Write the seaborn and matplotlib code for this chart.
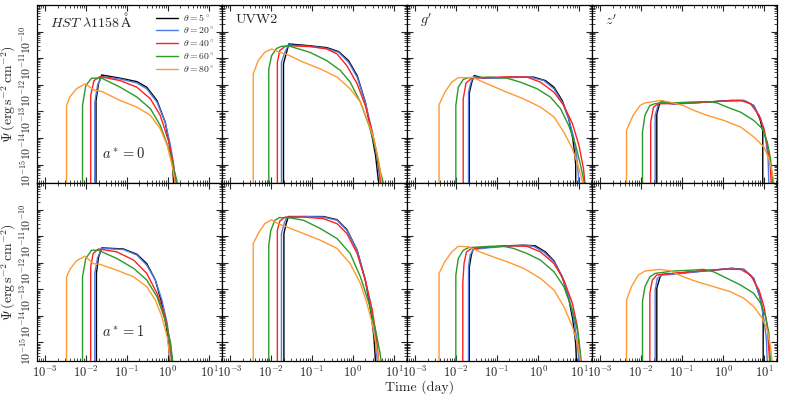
import numpy as np
import pandas as pd
import matplotlib
matplotlib.use("Agg")
import matplotlib.pyplot as plt
import seaborn as sns
from matplotlib.ticker import LogLocator, NullFormatter

# Viewing angles and line colours
THETAS = [5, 20, 40, 60, 80]
COLORS = ["#000000", "#4f7be8", "#ff2020", "#2a9a2a", "#ff9a33"]
BANDS = [r"$\mathit{HST}\ \lambda1158\,\mathrm{\AA}$", "UVW2", r"$g'$", r"$z'$"]
SPINS = [0, 1]

# Curves: theta -> (log10 time [day], log10 Psi)
hst_a0 = {
    5: ([-1.76, -1.76, -1.70, -1.62, -1.17, -0.76, -0.52, -0.27, -0.07, 0.04, 0.11, 0.14],
        [-16.5, -12.6, -11.95, -11.63, -11.75, -11.88, -12.09, -12.59, -13.4, -14.28, -15.03, -15.75]),
    20: ([-1.79, -1.79, -1.72, -1.62, -1.17, -0.76, -0.52, -0.27, -0.07, 0.06, 0.14, 0.19],
         [-16.5, -12.65, -12.0, -11.69, -11.78, -11.93, -12.15, -12.65, -13.4, -14.28, -15.03, -15.75]),
    40: ([-1.89, -1.89, -1.81, -1.66, -1.17, -0.76, -0.43, -0.19, 0.02, 0.12, 0.20],
         [-16.5, -12.4, -11.84, -11.69, -11.84, -12.09, -12.53, -13.15, -14.15, -14.9, -15.75]),
    60: ([-2.09, -2.09, -2.01, -1.87, -1.62, -1.17, -0.76, -0.43, -0.19, 0.02, 0.14, 0.24],
         [-16.5, -12.78, -12.03, -11.75, -11.75, -12.09, -12.46, -12.9, -13.53, -14.4, -15.15, -15.75]),
    80: ([-2.48, -2.48, -2.40, -2.24, -2.03, -1.79, -1.62, -1.17, -0.76, -0.43, -0.19, -0.02, 0.10, 0.18],
         [-16.5, -12.78, -12.46, -12.15, -11.96, -12.21, -12.25, -12.59, -12.84, -13.15, -13.65, -14.28, -15.03, -15.75]),
}

uvw2_a0 = {
    5: ([-1.70, -1.70, -1.62, -1.57, -1.05, -0.64, -0.35, -0.11, 0.10, 0.30, 0.43, 0.55, 0.63],
        [-16.5, -11.2, -10.75, -10.46, -10.53, -10.6, -10.75, -11.09, -11.65, -12.65, -13.65, -14.65, -15.75]),
    20: ([-1.75, -1.75, -1.66, -1.58, -1.05, -0.64, -0.35, -0.11, 0.10, 0.30, 0.47, 0.59, 0.67],
         [-16.5, -11.15, -10.75, -10.5, -10.55, -10.63, -10.78, -11.15, -11.71, -12.65, -13.78, -14.78, -15.75]),
    40: ([-1.85, -1.85, -1.79, -1.66, -1.54, -1.05, -0.64, -0.39, -0.15, 0.10, 0.30, 0.47, 0.59, 0.69],
         [-16.5, -11.15, -10.71, -10.55, -10.53, -10.56, -10.65, -10.84, -11.28, -11.96, -12.78, -13.78, -14.65, -15.75]),
    60: ([-2.06, -2.06, -1.99, -1.87, -1.75, -1.54, -1.05, -0.64, -0.31, -0.07, 0.18, 0.39, 0.55, 0.67, 0.75],
         [-16.5, -11.4, -10.9, -10.63, -10.55, -10.55, -10.78, -11.09, -11.46, -11.9, -12.65, -13.53, -14.4, -15.28, -15.75]),
    80: ([-2.44, -2.44, -2.32, -2.16, -1.99, -1.79, -1.58, -1.21, -0.80, -0.39, -0.07, 0.18, 0.34, 0.51, 0.63, 0.71],
         [-16.5, -11.59, -11.09, -10.78, -10.65, -10.78, -10.88, -11.15, -11.4, -11.71, -12.15, -12.65, -13.28, -14.03, -14.9, -15.75]),
}

g_a0 = {
    5: ([-1.68, -1.68, -1.62, -1.56, -1.34, -0.76, -0.11, 0.18, 0.39, 0.59, 0.75, 0.85, 0.90, 0.92, 0.92],
        [-16.5, -12.3, -11.9, -11.65, -11.75, -11.72, -11.71, -11.84, -12.09, -12.59, -13.28, -14.03, -14.65, -15.0, -15.75]),
    20: ([-1.70, -1.70, -1.64, -1.58, -1.34, -0.76, -0.19, 0.14, 0.39, 0.59, 0.75, 0.88, 0.96, 1.0],
         [-16.5, -12.28, -11.9, -11.69, -11.75, -11.73, -11.71, -11.84, -12.15, -12.65, -13.28, -14.03, -14.9, -15.75]),
    40: ([-1.83, -1.83, -1.76, -1.62, -0.76, -0.27, 0.06, 0.39, 0.63, 0.84, 1.0, 1.11, 1.15],
         [-16.5, -12.53, -11.93, -11.75, -11.7, -11.71, -11.9, -12.28, -12.78, -13.46, -14.28, -15.15, -15.75]),
    60: ([-2.01, -2.01, -1.95, -1.83, -1.70, -1.17, -0.76, -0.43, -0.02, 0.30, 0.55, 0.75, 0.92, 1.04, 1.14],
         [-16.5, -12.78, -12.09, -11.8, -11.73, -11.71, -11.75, -11.9, -12.15, -12.46, -12.9, -13.53, -14.28, -15.03, -15.75]),
    80: ([-2.42, -2.42, -2.28, -2.11, -1.95, -1.58, -1.25, -0.76, -0.35, 0.06, 0.39, 0.63, 0.84, 1.0, 1.10],
         [-16.5, -12.75, -12.28, -11.9, -11.73, -11.73, -11.96, -12.28, -12.53, -12.84, -13.21, -13.78, -14.4, -15.15, -15.75]),
}

z_a0 = {
    5: ([-1.62, -1.62, -1.56, -1.50, -1.21, -0.39, 0.18, 0.51, 0.75, 0.90, 0.96, 0.97, 0.97],
        [-16.5, -13.1, -12.75, -12.61, -12.71, -12.65, -12.59, -12.59, -12.78, -13.28, -13.65, -13.75, -16.5]),
    20: ([-1.66, -1.66, -1.58, -1.50, -1.21, -0.39, 0.18, 0.51, 0.75, 0.92, 1.04, 1.10, 1.12],
         [-16.5, -13.15, -12.71, -12.65, -12.73, -12.65, -12.59, -12.59, -12.78, -13.28, -14.03, -14.78, -15.75]),
    40: ([-1.77, -1.77, -1.70, -1.58, -1.21, -0.80, -0.39, 0.02, 0.43, 0.67, 0.88, 1.0, 1.08, 1.15, 1.18],
         [-16.5, -13.4, -12.84, -12.71, -12.71, -12.68, -12.65, -12.61, -12.59, -12.71, -13.15, -13.65, -14.28, -15.03, -15.75]),
    60: ([-1.97, -1.97, -1.91, -1.79, -1.66, -1.54, -1.21, -0.80, -0.39, -0.15, 0.10, 0.43, 0.75, 0.96, 1.08, 1.16, 1.22],
         [-16.5, -13.78, -13.15, -12.78, -12.71, -12.68, -12.68, -12.65, -12.63, -12.68, -12.84, -13.03, -13.34, -13.65, -14.15, -14.78, -15.75]),
    80: ([-2.36, -2.36, -2.20, -2.03, -1.91, -1.54, -1.30, -0.97, -0.72, -0.39, 0.02, 0.43, 0.75, 1.0, 1.12, 1.20, 1.25],
         [-16.5, -13.71, -13.15, -12.78, -12.68, -12.59, -12.65, -12.78, -12.96, -13.15, -13.34, -13.59, -13.96, -14.34, -14.78, -15.28, -15.75]),
}

hst_a1 = {
    5: ([-1.75, -1.75, -1.70, -1.62, -1.09, -0.76, -0.52, -0.31, -0.15, -0.04, 0.02, 0.04],
        [-16.5, -12.4, -11.8, -11.44, -11.48, -11.68, -12.03, -12.65, -13.53, -14.4, -15.15, -15.75]),
    20: ([-1.79, -1.79, -1.72, -1.62, -1.09, -0.76, -0.52, -0.31, -0.15, -0.02, 0.04, 0.08],
         [-16.5, -12.4, -11.8, -11.46, -11.5, -11.71, -12.09, -12.65, -13.4, -14.28, -15.03, -15.75]),
    40: ([-1.89, -1.89, -1.83, -1.70, -1.25, -0.84, -0.52, -0.27, -0.07, 0.06, 0.10],
         [-16.5, -12.15, -11.65, -11.48, -11.59, -11.9, -12.4, -13.15, -14.03, -15.03, -15.75]),
    60: ([-2.09, -2.09, -2.01, -1.87, -1.70, -1.25, -0.84, -0.52, -0.27, -0.07, 0.06, 0.12],
         [-16.5, -12.53, -11.84, -11.53, -11.53, -11.84, -12.21, -12.65, -13.28, -14.15, -15.03, -15.75]),
    80: ([-2.48, -2.48, -2.40, -2.24, -2.03, -1.83, -1.66, -1.25, -0.84, -0.52, -0.31, -0.15, -0.02, 0.06],
         [-16.5, -12.53, -12.25, -11.93, -11.75, -12.03, -12.06, -12.28, -12.53, -12.9, -13.4, -14.03, -14.78, -15.75]),
}

uvw2_a1 = {
    5: ([-1.69, -1.69, -1.63, -1.58, -0.72, -0.39, -0.15, 0.10, 0.30, 0.43, 0.51, 0.55],
        [-16.5, -10.9, -10.5, -10.26, -10.26, -10.38, -10.75, -11.53, -12.65, -13.78, -14.78, -15.75]),
    20: ([-1.75, -1.75, -1.68, -1.61, -1.21, -0.72, -0.39, -0.15, 0.10, 0.30, 0.45, 0.55, 0.59],
         [-16.5, -10.9, -10.5, -10.28, -10.26, -10.28, -10.4, -10.78, -11.53, -12.65, -13.78, -14.78, -15.75]),
    40: ([-1.85, -1.85, -1.79, -1.66, -1.21, -0.72, -0.39, -0.15, 0.10, 0.30, 0.47, 0.57, 0.63],
         [-16.5, -10.78, -10.43, -10.28, -10.28, -10.34, -10.53, -10.9, -11.65, -12.65, -13.78, -14.78, -15.75]),
    60: ([-2.06, -2.06, -2.01, -1.91, -1.80, -1.54, -1.21, -0.80, -0.39, -0.07, 0.18, 0.39, 0.55, 0.66, 0.69],
         [-16.5, -11.34, -10.78, -10.4, -10.3, -10.31, -10.4, -10.71, -11.09, -11.65, -12.53, -13.53, -14.53, -15.4, -15.75]),
    80: ([-2.44, -2.44, -2.32, -2.16, -1.99, -1.83, -1.62, -1.21, -0.80, -0.39, -0.07, 0.18, 0.34, 0.47, 0.57, 0.63],
         [-16.5, -11.28, -10.9, -10.53, -10.38, -10.53, -10.65, -10.9, -11.15, -11.46, -12.03, -12.78, -13.53, -14.28, -15.15, -15.75]),
}

g_a1 = {
    5: ([-1.68, -1.68, -1.63, -1.58, -0.76, -0.35, -0.07, 0.18, 0.39, 0.59, 0.75, 0.85, 0.92, 0.94],
        [-16.5, -12.15, -11.7, -11.46, -11.36, -11.34, -11.36, -11.59, -11.93, -12.53, -13.34, -14.15, -15.03, -15.75]),
    20: ([-1.70, -1.70, -1.66, -1.58, -1.17, -0.76, -0.35, -0.11, 0.14, 0.39, 0.59, 0.75, 0.88, 0.96, 1.0],
         [-16.5, -12.15, -11.71, -11.5, -11.43, -11.38, -11.34, -11.38, -11.59, -11.96, -12.53, -13.28, -14.15, -15.03, -15.75]),
    40: ([-1.84, -1.84, -1.81, -1.75, -1.62, -1.17, -0.76, -0.27, 0.06, 0.39, 0.63, 0.84, 0.96, 1.04],
         [-16.5, -12.78, -12.03, -11.59, -11.46, -11.4, -11.36, -11.38, -11.59, -12.03, -12.65, -13.53, -14.4, -15.75]),
    60: ([-2.01, -2.01, -1.95, -1.83, -1.70, -1.17, -0.84, -0.60, -0.27, 0.06, 0.39, 0.63, 0.84, 0.98, 1.06],
         [-16.5, -12.46, -11.84, -11.53, -11.43, -11.38, -11.38, -11.46, -11.65, -11.9, -12.34, -12.9, -13.78, -14.65, -15.75]),
    80: ([-2.42, -2.42, -2.28, -2.11, -1.95, -1.70, -1.42, -1.09, -0.76, -0.35, 0.06, 0.39, 0.63, 0.84, 0.98, 1.04],
         [-16.5, -12.4, -11.96, -11.59, -11.38, -11.4, -11.59, -11.78, -11.96, -12.21, -12.59, -13.03, -13.65, -14.4, -15.15, -15.75]),
}

z_a1 = {
    5: ([-1.62, -1.62, -1.54, -1.50, -0.39, 0.22, 0.51, 0.75, 0.90, 0.97, 0.98, 0.98],
        [-16.5, -12.95, -12.53, -12.44, -12.3, -12.21, -12.25, -12.59, -13.28, -13.78, -13.85, -16.5]),
    20: ([-1.66, -1.66, -1.61, -1.50, -1.21, -0.39, 0.18, 0.51, 0.75, 0.90, 1.0, 1.06, 1.08],
         [-16.5, -13.03, -12.59, -12.46, -12.43, -12.3, -12.21, -12.25, -12.59, -13.28, -14.15, -14.9, -15.75]),
    40: ([-1.79, -1.79, -1.73, -1.62, -1.21, -0.80, -0.39, 0.10, 0.43, 0.67, 0.88, 1.0, 1.08, 1.14],
         [-16.5, -13.15, -12.65, -12.46, -12.4, -12.34, -12.28, -12.24, -12.25, -12.46, -13.03, -13.65, -14.4, -15.75]),
    60: ([-1.97, -1.97, -1.91, -1.79, -1.66, -1.21, -0.80, -0.47, -0.23, 0.10, 0.43, 0.75, 0.92, 1.04, 1.12, 1.16],
         [-16.5, -13.46, -12.9, -12.53, -12.4, -12.31, -12.28, -12.25, -12.34, -12.59, -12.84, -13.15, -13.53, -14.03, -14.65, -15.75]),
    80: ([-2.36, -2.36, -2.24, -2.07, -1.91, -1.54, -1.30, -0.97, -0.64, -0.23, 0.18, 0.51, 0.75, 0.96, 1.08, 1.16, 1.20],
         [-16.5, -13.4, -12.9, -12.46, -12.31, -12.25, -12.3, -12.53, -12.71, -12.9, -13.09, -13.34, -13.65, -14.09, -14.53, -15.15, -15.75]),
}

PANELS = [[hst_a0, uvw2_a0, g_a0, z_a0],
          [hst_a1, uvw2_a1, g_a1, z_a1]]


def theta_label(theta):
    return rf"$\theta={theta}^\circ$"


def panel_frame(panel):
    """Long-form table (t, psi, theta) for one panel."""
    parts = []
    for theta in THETAS:
        logt, logpsi = panel[theta]
        parts.append(pd.DataFrame({
            "t": 10.0 ** np.asarray(logt),
            "psi": 10.0 ** np.asarray(logpsi),
            "theta": theta_label(theta),
        }))
    return pd.concat(parts, ignore_index=True)


sns.set_style("ticks")
plt.rcParams.update({
    "font.family": "serif",
    "font.serif": ["cmr10"],
    "mathtext.fontset": "cm",
    "axes.formatter.use_mathtext": True,
    "axes.edgecolor": "black",
    "axes.linewidth": 0.9,
})

fig, axes = plt.subplots(2, 4, figsize=(7.89, 3.95), dpi=100, sharex=True, sharey=True)
fig.subplots_adjust(left=0.047, right=0.985, top=0.987, bottom=0.086, wspace=0, hspace=0)

hue_order = [theta_label(t) for t in THETAS]

for r, row in enumerate(PANELS):
    for c, panel in enumerate(row):
        ax = axes[r, c]
        sns.lineplot(
            data=panel_frame(panel), x="t", y="psi", hue="theta",
            hue_order=hue_order, palette=COLORS, estimator=None, sort=False,
            linewidth=1.0, legend=(r == 0 and c == 0), ax=ax,
        )
        ax.set_xscale("log")
        ax.set_yscale("log")
        ax.set_xlabel("")
        ax.set_ylabel("")

for ax in axes.flat:
    ax.set_xlim(6.3e-4, 2.1e1)
    ax.set_ylim(2e-16, 1e-9)
    ax.xaxis.set_major_locator(LogLocator(base=10, numticks=12))
    ax.xaxis.set_minor_locator(LogLocator(base=10, subs=np.arange(2, 10), numticks=12))
    ax.xaxis.set_minor_formatter(NullFormatter())
    ax.set_yticks([1e-15, 1e-14, 1e-13, 1e-12, 1e-11, 1e-10])
    ax.yaxis.set_minor_locator(LogLocator(base=10, subs=np.arange(2, 10), numticks=12))
    ax.yaxis.set_minor_formatter(NullFormatter())
    ax.tick_params(which="both", direction="in", top=True, right=True)
    ax.tick_params(which="major", length=4, width=0.8)
    ax.tick_params(which="minor", length=2, width=0.6)
    ax.tick_params(axis="x", labelsize=9, pad=3)
    ax.tick_params(axis="y", labelsize=8.5, labelrotation=90, pad=2)

# Band names in the top row, spin labels in the first column
for c, band in enumerate(BANDS):
    axes[0, c].text(0.07, 0.915, band, transform=axes[0, c].transAxes,
                    fontsize=10, va="center", ha="left")
for r, spin in enumerate(SPINS):
    axes[r, 0].text(0.024, 2.6e-15, rf"$a^*={spin}$", fontsize=10.5, va="center", ha="left")
    axes[r, 0].set_ylabel(r"$\Psi\,(\mathrm{erg\,s^{-2}\,cm^{-2}})$", fontsize=10, labelpad=1)

# Restyle the seaborn legend
leg = axes[0, 0].get_legend()
handles = leg.legend_handles
labels = [t.get_text() for t in leg.get_texts()]
axes[0, 0].legend(handles, labels, loc="upper right", frameon=False, fontsize=7,
                  handlelength=2.2, handletextpad=0.6, labelspacing=0.25, borderaxespad=0.3)

fig.text(0.532, 0.02, "Time (day)", ha="center", va="center", fontsize=10)

fig.savefig("out.png", dpi=100)
